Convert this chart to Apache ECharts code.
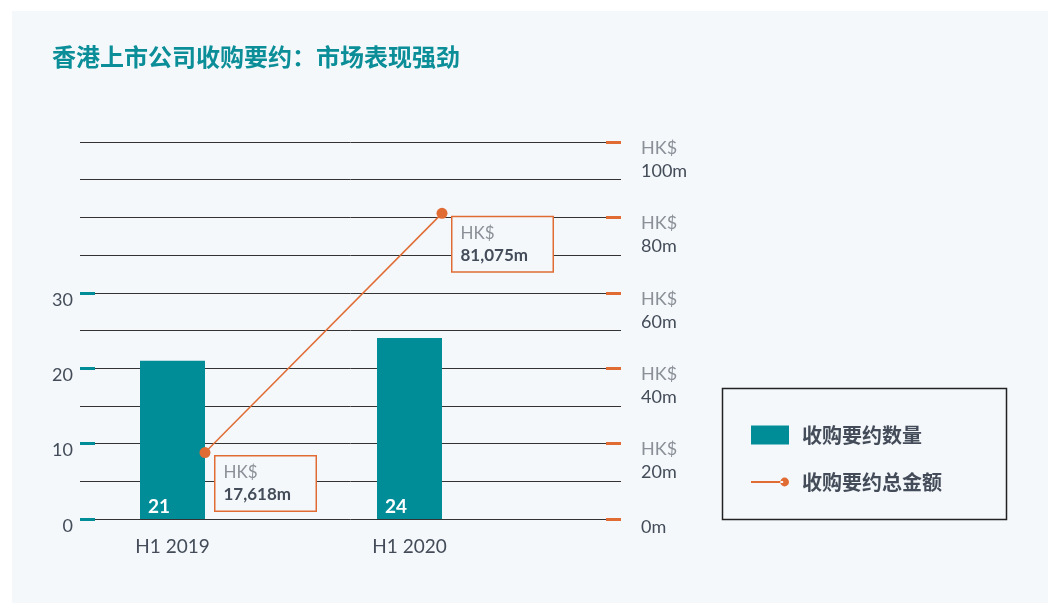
<!DOCTYPE html>
<html>
<head>
<meta charset="utf-8">
<script src="https://cdn.jsdelivr.net/npm/echarts@6/dist/echarts.min.js"></script>
<style>
  html, body { margin: 0; padding: 0; background: #fff; }
  #panel { position: absolute; left: 12px; top: 11px; width: 1036px; height: 592px; background: #f4f8fb; }
  #chart { position: absolute; left: 0; top: 0; width: 1048px; height: 603px; }
</style>
</head>
<body>
<div id="panel"></div>
<div id="chart"></div>
<script>
// 收购要约数量 / 总金额 (HK$ m)
const categories = ['H1 2019', 'H1 2020'];
const offerCounts = [21, 24];
const offerValues = [17618, 81075];
const countTicks = [0, 10, 20, 30];
const valueTicks = [0, 20000, 40000, 60000, 80000, 100000];

const TEAL = '#008d97';
const ORANGE = '#e06c34';
const PANEL = '#f4f8fb';
const INK = '#434c58';
const GREY = '#8b9098';
const LATIN = 'Lato, "Noto Sans", sans-serif';
const CJK = '"Noto Sans CJK SC", sans-serif';

const plotTop = 142;
const plotHeight = 377;

const chart = echarts.init(document.getElementById('chart'), null, { renderer: 'canvas' });

const option = {
  animation: false,
  title: {
    text: '香港上市公司收购要约：市场表现强劲',
    left: 52,
    top: 45,
    padding: 0,
    textStyle: { color: '#0b8e98', fontSize: 24, fontWeight: 'bold', fontFamily: CJK, lineHeight: 24 }
  },
  graphic: [
    {
      type: 'rect',
      shape: { x: 722.5, y: 388.5, width: 284, height: 131 },
      style: { fill: PANEL, stroke: '#222', lineWidth: 1.5 }
    }
  ],
  legend: {
    orient: 'vertical',
    left: 751,
    top: 425,
    padding: 0,
    itemWidth: 38,
    itemHeight: 19,
    itemGap: 27,
    selectedMode: false,
    z: 10,
    textStyle: { color: INK, fontSize: 20, fontWeight: 'bold', fontFamily: CJK, padding: [0, 0, 0, 8] },
    data: [
      { name: '收购要约数量', icon: 'rect' },
      {
        name: '收购要约总金额',
        icon: 'path://M0,4 L33,4 L33,6 L0,6 Z M30,5 A4.5,4.5 0 1,0 39,5 A4.5,4.5 0 1,0 30,5 Z',
        itemStyle: { color: ORANGE, borderWidth: 0 }
      }
    ]
  },
  grid: [
    { left: 80, width: 541, top: plotTop, height: plotHeight },
    { left: 54, width: 474, top: plotTop, height: plotHeight },
    { left: 86.5, width: 474, top: plotTop, height: plotHeight }
  ],
  xAxis: [
    { gridIndex: 0, type: 'value', show: false },
    {
      gridIndex: 1,
      type: 'category',
      data: categories,
      axisLine: { show: false },
      axisTick: { show: false },
      axisLabel: { color: INK, fontSize: 19, margin: 18, fontFamily: LATIN }
    },
    { gridIndex: 2, type: 'category', data: categories, show: false }
  ],
  yAxis: [
    {
      gridIndex: 0,
      position: 'left',
      min: 0,
      max: 50,
      interval: 10,
      axisLine: { show: false },
      splitLine: { show: false },
      axisTick: { show: true, inside: true, length: 15, lineStyle: { color: TEAL, width: 3 }, customValues: countTicks },
      axisLabel: {
        customValues: countTicks,
        margin: 7,
        verticalAlign: 'top',
        formatter: (v) => '{n|' + v + '}',
        rich: { n: { color: INK, fontSize: 18, lineHeight: 14, fontFamily: LATIN } }
      }
    },
    {
      gridIndex: 0,
      position: 'right',
      min: 0,
      max: 100000,
      interval: 20000,
      axisLine: { show: false },
      splitLine: { show: false },
      axisTick: { show: true, inside: true, length: 15, lineStyle: { color: ORANGE, width: 3 }, customValues: valueTicks },
      axisLabel: {
        customValues: valueTicks,
        margin: 20,
        verticalAlign: 'top',
        formatter: (v) => v === 0 ? '{z|0m}' : '{a|HK$}\n{b|' + (v / 1000) + 'm}',
        rich: {
          a: { color: GREY, fontSize: 18, lineHeight: 12, fontFamily: LATIN },
          b: { color: INK, fontSize: 18, lineHeight: 34, fontFamily: LATIN },
          z: { color: INK, fontSize: 18, lineHeight: 16, fontFamily: LATIN }
        }
      }
    },
    // horizontal rules every HK$10,000m
    {
      gridIndex: 0,
      position: 'right',
      min: 0,
      max: 100000,
      interval: 10000,
      axisLine: { show: false },
      axisTick: { show: false },
      axisLabel: { show: false },
      splitLine: { show: true, lineStyle: { color: '#333', width: 1 } }
    },
    { gridIndex: 1, min: 0, max: 50, show: false },
    { gridIndex: 2, min: 0, max: 100000, show: false }
  ],
  series: [
    {
      name: '收购要约数量',
      type: 'bar',
      xAxisIndex: 1,
      yAxisIndex: 3,
      data: offerCounts,
      barWidth: 65,
      itemStyle: { color: TEAL },
      label: {
        show: true,
        position: 'insideBottomLeft',
        distance: 0,
        offset: [8, -3],
        color: '#fff',
        fontSize: 19,
        fontWeight: 'bold',
        fontFamily: LATIN
      }
    },
    {
      name: '收购要约总金额',
      type: 'line',
      xAxisIndex: 2,
      yAxisIndex: 4,
      data: offerValues,
      color: ORANGE,
      symbol: 'circle',
      symbolSize: 11,
      itemStyle: { color: ORANGE },
      lineStyle: { color: ORANGE, width: 1.5 },
      label: {
        show: true,
        position: 'right',
        distance: 0,
        offset: [5, 4],
        verticalAlign: 'top',
        width: 84,
        padding: [5, 8, 5, 8],
        backgroundColor: PANEL,
        borderColor: ORANGE,
        borderWidth: 1.5,
        formatter: (p) => '{a|HK$}\n{b|' + p.value.toLocaleString('en-US') + 'm}',
        rich: {
          a: { color: GREY, fontSize: 17, lineHeight: 22, fontFamily: LATIN },
          b: { color: INK, fontSize: 17, lineHeight: 22, fontWeight: 'bold', fontFamily: LATIN }
        }
      }
    }
  ]
};

chart.setOption(option);
</script>
</body>
</html>
